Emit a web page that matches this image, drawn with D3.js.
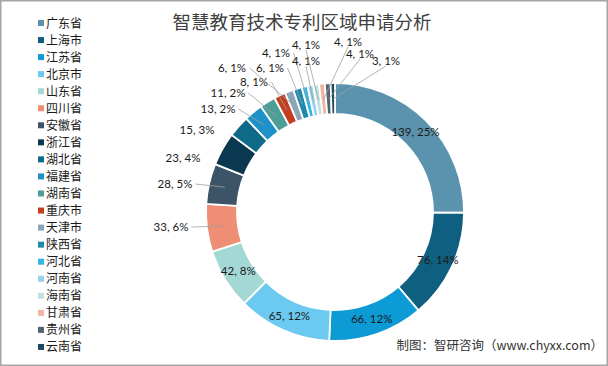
<!DOCTYPE html>
<html><head><meta charset="utf-8">
<script src="https://cdn.jsdelivr.net/npm/d3@7"></script>
<style>html,body{margin:0;padding:0;background:#fff;}svg{display:block;}</style>
</head><body>
<script>
const categories = ["广东省","上海市","江苏省","北京市","山东省","四川省","安徽省","浙江省","湖北省","福建省","湖南省","重庆市","天津市","陕西省","河北省","河南省","海南省","甘肃省","贵州省","云南省"];
const values = [139,76,66,65,42,33,28,23,15,13,11,8,6,6,4,4,4,4,4,3];
const percents = ["25%","14%","12%","12%","8%","6%","5%","4%","3%","2%","2%","1%","1%","1%","1%","1%","1%","1%","1%","1%"];
const colors = ["#5b93ae","#0f5f80","#0d9bd6","#6ccaf0","#a3d8d4","#ee8e75","#3b5468","#0a3850","#0f6a8a","#1e92c8","#4c9e96","#c23e1e","#8aa6b8","#1f8aae","#33b5e5","#99d0ec","#bfe3df","#f0b4a4","#4f6570","#1a4a60"];
const title = "智慧教育技术专利区域申请分析";
const source = "制图：智研咨询（www.chyxx.com）";
// label placement (relative to donut center) for outside labels: [dx, dy, leader?]; null = inside centroid
const labelLayout = [null,null,null,null,null,
  [-164,15,1],[-160,-28,1],[-152,-54,0],[-138,-82,0],[-117,-103,1],[-107,-119,1],[-81,-130,1],
  [-103,-144,1],[-65,-144,1],[-59,-159,1],[-29,-151,1],[-29,-167,1],[13,-170,1],[25,-158,1],[51,-151,1]];

const W = 608, H = 366;
const svg = d3.select("body").append("svg").attr("width", W).attr("height", H);
svg.append("rect").attr("x",0.75).attr("y",0.75).attr("width",W-1.5).attr("height",H-1.5)
  .attr("fill","#fff").attr("stroke","#a6a6a6").attr("stroke-width",1.5);

svg.append("text").attr("x",302).attr("y",29).attr("text-anchor","middle")
  .attr("font-family","'Noto Sans CJK SC'").attr("font-size",18.5).attr("fill","#404040").text(title);

const cx = 335, cy = 212, rOut = 129, rIn = 98;
const data = categories.map((c,i)=>({name:c, value:values[i], pct:percents[i], color:colors[i], i}));
const pie = d3.pie().value(d=>d.value).sort(null);
const arcs = pie(data);
const arc = d3.arc().innerRadius(rIn).outerRadius(rOut);
const mid = d3.arc().innerRadius(113).outerRadius(113);
const g = svg.append("g").attr("transform",`translate(${cx},${cy})`);
g.selectAll("path.s").data(arcs).join("path").attr("class","s")
  .attr("d",arc).attr("fill",d=>d.data.color).attr("stroke","#fff").attr("stroke-width",1.8);

const font = "Lato, 'Liberation Sans', sans-serif";
arcs.forEach(a=>{
  const txt = `${a.data.value}, ${a.data.pct}`;
  const lay = labelLayout[a.data.i];
  if(!lay){
    const [x,y] = arc.centroid(a);
    g.append("text").attr("x",x).attr("y",y+4).attr("text-anchor","middle")
      .attr("font-family",font).attr("font-size",11.5).attr("fill","#1a1a1a").text(txt);
  } else {
    const [mx,my] = mid.centroid(a);
    const [lx,ly,show] = lay;
    const hw = txt.length*2.9;
    let ex, ey;
    if (mx - lx > hw + 8 && Math.abs(my-ly) < 60) { ex = lx + hw + 3; ey = ly; }
    else { ex = lx; ey = ly + 5; }
    if (show) {
      g.append("line").attr("x1",ex).attr("y1",ey).attr("x2",mx).attr("y2",my)
        .attr("stroke","#a0a0a0").attr("stroke-width",0.8);
    }
    g.append("text").attr("x",lx).attr("y",ly+4).attr("text-anchor","middle")
      .attr("font-family",font).attr("font-size",11.5).attr("fill","#1a1a1a").text(txt);
  }
});

const leg = svg.append("g");
categories.forEach((c,i)=>{
  const y = 23 + i*17.05;
  leg.append("rect").attr("x",38).attr("y",y-3).attr("width",6).attr("height",6).attr("fill",colors[i]);
  leg.append("text").attr("x",46).attr("y",y+4.5).attr("font-family","'Noto Sans CJK SC'")
    .attr("font-size",12).attr("fill","#1a1a1a").text(c);
});

svg.append("text").attr("x",603).attr("y",350).attr("text-anchor","end")
  .attr("font-family","'Noto Sans CJK SC'").attr("font-size",12.5).attr("fill","#333").text(source);
</script>
</body></html>
